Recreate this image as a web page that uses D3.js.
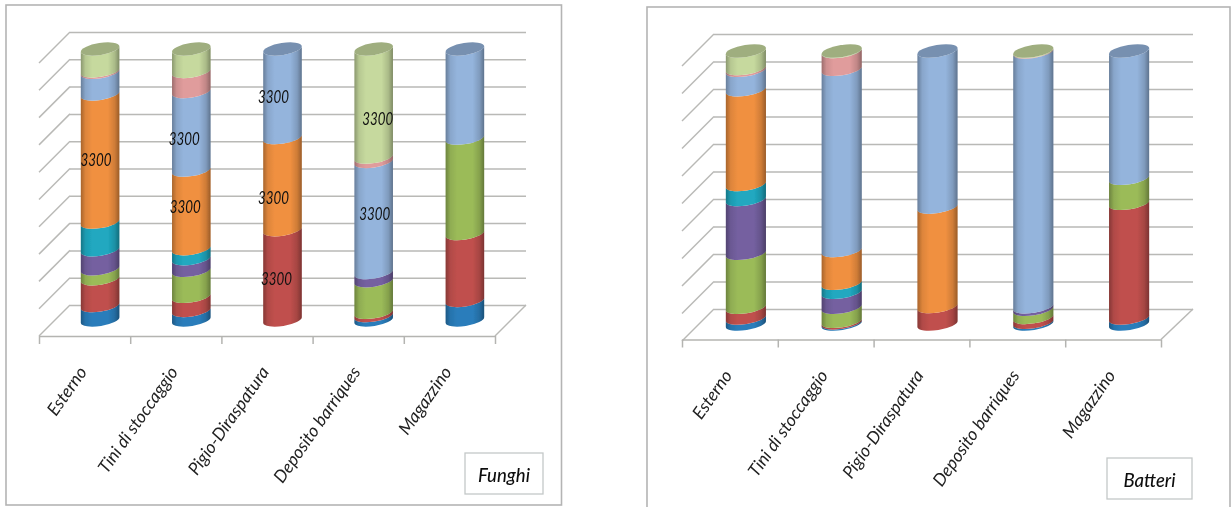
<!DOCTYPE html>
<html>
<head>
<meta charset="utf-8">
<style>
  html, body { margin: 0; padding: 0; background: #fff; }
  svg { display: block; }
</style>
</head>
<body>
<svg id="draw" width="1231" height="507"></svg>

<script src="https://cdn.jsdelivr.net/npm/d3@7"></script>

<script>
    var categories = ["Esterno", "Tini di stoccaggio", "Pigio-Diraspatura", "Deposito barriques", "Magazzino"];

    // one row per category, one column per series (bottom to top), percent
    var funghiValues = [
        [5.3, 9.9, 3.7, 7.0, 10.2, 47.3, 8.0, 0.5, 8.1],
        [3.5, 5.2, 9.6, 4.3, 3.7, 29.0, 29.0, 7.4, 8.3],
        [0, 33.3, 0, 0, 0, 34.0, 32.7, 0, 0],
        [1.6, 1.2, 11.7, 3.0, 0, 0, 41.0, 1.6, 39.9],
        [7.2, 24.7, 35.2, 0, 0, 0, 32.9, 0, 0]
    ];
    var batteriValues = [
        [2.2, 3.9, 19.8, 19.7, 5.5, 34.7, 7.1, 0.7, 6.4],
        [0.4, 0.6, 5.1, 5.5, 3.3, 12.0, 66.4, 6.5, 0.2],
        [0, 6.4, 0, 0, 0, 36.4, 57.2, 0, 0],
        [0.6, 1.8, 3.0, 0.9, 0, 0, 93.3, 0.2, 0.2],
        [2.2, 42.0, 9.2, 0, 0, 0, 46.6, 0, 0]
    ];

    var seriesColors = ["#2a7dbb", "#c0504d", "#9bbb59", "#7460a0", "#20a8c0", "#f09040", "#94b4dc", "#e09c9c", "#c6d99e"];
    var seriesKeys = d3.range(seriesColors.length);

    // [category index, series index] of the "3300" labels
    var funghiLabels = [[0, 5], [1, 6], [1, 5], [2, 6], [2, 5], [2, 1], [3, 8], [3, 6]];
    var labelText = "3300";
    var labelShift = [[-4, -5], [-7, 1], [-6, -9], [-9, -3], [-9, 7], [-6, -3], [4, 9], [1, -10]];

    var tiltDeg = 9;
    var tilt = tiltDeg * Math.PI / 180;

    const svg = d3.select("svg#draw");
    const defs = svg.append("defs");

    defs.append("filter").attr("id", "soft")
        .attr("x", "-2%").attr("y", "-2%").attr("width", "104%").attr("height", "104%")
      .append("feGaussianBlur").attr("stdDeviation", 0.6);

    const shade = defs.append("linearGradient").attr("id", "shade");
    [[0, 0.3], [0.12, 0.08], [0.3, 0], [0.7, 0], [0.88, 0.14], [1, 0.36]].forEach(s => {
        shade.append("stop").attr("offset", s[0]).attr("stop-color", "#000").attr("stop-opacity", s[1]);
    });

    const root = svg.append("g").attr("filter", "url(#soft)");

    drawPanel({
        values: funghiValues, title: "Funghi", labels: funghiLabels,
        frame: [6, 5, 555.5, 500],
        left: 39, right: 495, front: 336, depth: 31, wallTop: 32, wallBottom: 305,
        colTop: 49, colBase: 320, rx: 19.5, ry: 6,
        box: [465, 453, 78, 41], labelDy: 36
    });

    drawPanel({
        values: batteriValues, title: "Batteri", labels: [],
        frame: [647, 7, 583, 520],
        left: 682, right: 1161, front: 339.5, depth: 32, wallTop: 34, wallBottom: 309,
        colTop: 51, colBase: 324, rx: 20.3, ry: 6,
        box: [1107, 458, 85, 41], labelDy: 36
    });

    function drawPanel(p) {
        const g = root.append("g");

        g.append("rect")
            .attr("x", p.frame[0]).attr("y", p.frame[1])
            .attr("width", p.frame[2]).attr("height", p.frame[3])
            .attr("fill", "#fff").attr("stroke", "#b4b4b4").attr("stroke-width", 1.6);

        const wall = d3.scaleLinear([0, 1], [p.wallBottom, p.wallTop]);
        const edges = d3.scaleLinear([0, categories.length], [p.left, p.right]);
        const band = d3.scaleBand(categories, [p.left, p.right]);
        const y = d3.scaleLinear([0, 1], [p.colBase, p.colTop]);
        const backLeft = p.left + p.depth;
        const backRight = p.right + p.depth;

        // back wall
        const grid = g.append("g")
            .attr("transform", `translate(${backLeft},0)`)
            .call(d3.axisLeft(wall).ticks(10).tickFormat("").tickSize(-(backRight - backLeft)));
        grid.select(".domain").remove();
        grid.selectAll("line").attr("stroke", "#b9b9b6").attr("stroke-width", 1.5);

        // side wall and floor edges
        g.append("g").selectAll("line")
            .data(wall.ticks(10))
            .join("line")
            .attr("x1", backLeft).attr("y1", d => wall(d))
            .attr("x2", p.left).attr("y2", d => wall(d) + p.depth)
            .attr("stroke", "#b9b9b6").attr("stroke-width", 1.5);
        g.append("line")
            .attr("x1", backRight).attr("y1", wall(0))
            .attr("x2", p.right).attr("y2", p.front)
            .attr("stroke", "#b9b9b6").attr("stroke-width", 1.5);

        // front edge with its ticks
        const front = g.append("g")
            .attr("transform", `translate(0,${p.front})`)
            .call(d3.axisBottom(edges).ticks(categories.length).tickFormat("").tickSize(8).tickSizeOuter(0));
        front.selectAll("path,line").attr("stroke", "#b4b4b1").attr("stroke-width", 1.5);

        // category labels
        const names = g.append("g")
            .attr("transform", `translate(0,${p.front})`)
            .call(d3.axisBottom(band).tickSize(0));
        names.select(".domain").remove();
        names.attr("font-family", "Lato, 'Open Sans', sans-serif").attr("font-size", 17.5);
        names.selectAll("text")
            .attr("x", 0).attr("y", 0).attr("dy", 0)
            .attr("text-anchor", "end")
            .attr("font-style", "italic")
            .attr("fill", "#222")
            .attr("transform", `translate(3,${p.labelDy}) rotate(-55)`);

        // the cylinders
        const stacked = d3.stack().keys(seriesKeys).offset(d3.stackOffsetExpand)(p.values);
        const cx = i => band(categories[i]) + band.bandwidth() / 2 + p.depth / 2;
        const dx = p.rx * Math.cos(tilt);
        const dy = p.rx * Math.sin(tilt);
        const arcTo = (x, yy, sweep) => `A${p.rx},${p.ry} ${-tiltDeg} 0 ${sweep} ${x},${yy}`;
        const slice = (i, a, b) => {
            const x = cx(i), y0 = y(a), y1 = y(b);
            return `M${x - dx},${y0 + dy}` + arcTo(x + dx, y0 - dy, 0) +
                `L${x + dx},${y1 - dy}` + arcTo(x - dx, y1 + dy, 1) + "Z";
        };

        stacked.forEach((layer, s) => {
            g.append("g").selectAll("path")
                .data(layer.map((d, i) => ({ i: i, a: d[0], b: d[1] })).filter(d => d.b > d.a))
                .join("path")
                .attr("d", d => slice(d.i, d.a, d.b))
                .attr("fill", seriesColors[s]);
        });

        const tops = categories.map((c, i) => {
            return d3.max(seriesKeys.filter(s => p.values[i][s] > 0));
        });

        g.append("g").selectAll("path")
            .data(categories.map((c, i) => i))
            .join("path")
            .attr("d", i => slice(i, 0, 1))
            .attr("fill", "url(#shade)");

        g.append("g").selectAll("ellipse")
            .data(categories.map((c, i) => i))
            .join("ellipse")
            .attr("rx", p.rx).attr("ry", p.ry)
            .attr("transform", i => `translate(${cx(i)},${y(1)}) rotate(${-tiltDeg})`)
            .attr("fill", i => d3.color(seriesColors[tops[i]]).darker(0.62));

        // data labels
        g.append("g").selectAll("text")
            .data(p.labels)
            .join("text")
            .attr("x", (d, k) => cx(d[0]) + labelShift[k][0])
            .attr("y", (d, k) => y((stacked[d[1]][d[0]][0] + stacked[d[1]][d[0]][1]) / 2) + p.ry + labelShift[k][1])
            .attr("text-anchor", "middle")
            .attr("dominant-baseline", "central")
            .attr("font-family", "Lato, 'Open Sans', sans-serif")
            .attr("font-style", "italic")
            .attr("font-size", 18)
            .attr("fill", "#111")
            .attr("textLength", 31)
            .attr("lengthAdjust", "spacingAndGlyphs")
            .text(labelText);

        // name box
        g.append("rect")
            .attr("x", p.box[0]).attr("y", p.box[1])
            .attr("width", p.box[2]).attr("height", p.box[3])
            .attr("fill", "#fff").attr("stroke", "#c4c8c8").attr("stroke-width", 1.3);
        g.append("text")
            .attr("x", p.box[0] + p.box[2] / 2)
            .attr("y", p.box[1] + p.box[3] / 2 + 1)
            .attr("text-anchor", "middle")
            .attr("dominant-baseline", "central")
            .attr("font-family", "Lato, 'Open Sans', sans-serif")
            .attr("font-style", "italic")
            .attr("font-weight", 500)
            .attr("font-size", 18.5)
            .attr("fill", "#111")
            .text(p.title);
    }
</script>
</body>
</html>
